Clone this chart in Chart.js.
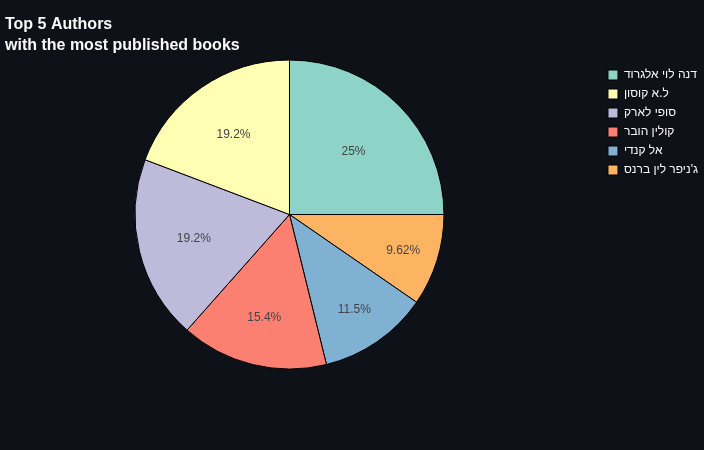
<!DOCTYPE html>
<html>
<head>
<meta charset="utf-8">
<script src="https://cdn.jsdelivr.net/npm/chart.js@4.4.1/dist/chart.umd.min.js"></script>
<style>
  html, body { margin:0; padding:0; background:#0e1117; overflow:hidden; }
  canvas { display:block; }
</style>
</head>
<body>
<canvas id="authorsPie" width="704" height="450"></canvas>
<script>
/* ============================
   Top 5 authors pie
============================ */
const authors = ['דנה לוי אלגרוד', 'ל.א קוסון', 'סופי לארק', 'קולין הובר', 'אל קנדי', "ג'ניפר לין ברנס"];
const bookCounts = [13, 10, 10, 8, 6, 5];
const sliceColors = ['#8dd3c7', '#ffffb3', '#bebada', '#fb8072', '#80b1d3', '#fdb462'];

const FONT = '"Liberation Sans", Arial, sans-serif';

// slices run counter-clockwise from 3 o'clock in the original, so feed them reversed
const rev = a => a.slice().reverse();

// percent text inside each slice, placed like plotly does (inscribed circle of the wedge)
const pctLabels = {
  id: 'pctLabels',
  afterDatasetsDraw(chart){
    const ctx = chart.ctx, meta = chart.getDatasetMeta(0);
    const vals = chart.data.datasets[0].data;
    const total = vals.reduce((s,v)=>s+v,0);
    ctx.save();
    ctx.font = '12px ' + FONT; ctx.fillStyle = '#444';
    ctx.textAlign = 'center'; ctx.textBaseline = 'middle';
    meta.data.forEach((arc,i)=>{
      const {x,y,startAngle,endAngle,outerRadius} = arc.getProps(['x','y','startAngle','endAngle','outerRadius'], true);
      const half = (endAngle-startAngle)/2, mid = startAngle+half;
      const inscribed = Math.min(1/(1+1/Math.sin(half)), 0.5);
      const r = outerRadius*(1-inscribed);
      const pct = Number((vals[i]/total*100).toPrecision(3));
      ctx.fillText(pct+'%', x+Math.cos(mid)*r, y+Math.sin(mid)*r+1);
    });
    ctx.restore();
  }
};

new Chart(document.getElementById('authorsPie'), {
  type:'pie',
  data:{ labels: rev(authors), datasets:[{ data: rev(bookCounts), backgroundColor: rev(sliceColors), borderColor:'#000', borderWidth:1 }] },
  options:{
    responsive:false, animation:false, rotation:90,
    layout:{ padding:{ left:5, right:-4, top:0, bottom:80.5 } },
    plugins:{
      title:{ display:true, align:'start', color:'#fafafa',
        text:['Top 5 Authors','with the most published books'],
        font:{ family:FONT, size:16, weight:'bold', lineHeight:1.3 }, padding:{ top:14.6, bottom:3.3 } },
      // empty box between pie and legend, keeps the pie where it sits in the original
      subtitle:{ display:true, position:'right', fullSize:false, weight:500, text:'',
        font:{ size:10, lineHeight:1 }, padding:{ top:9, bottom:8 } },
      legend:{ position:'right', align:'start', reverse:true, fullSize:false,
        title:{ display:true, text:'', font:{ size:2.5, lineHeight:1 }, padding:0 },
        labels:{ color:'#fafafa', boxWidth:10, boxHeight:10, padding:7, font:{ family:FONT, size:12 } } },
      tooltip:{ enabled:false }
    }
  },
  plugins:[pctLabels]
});
</script>
</body>
</html>
